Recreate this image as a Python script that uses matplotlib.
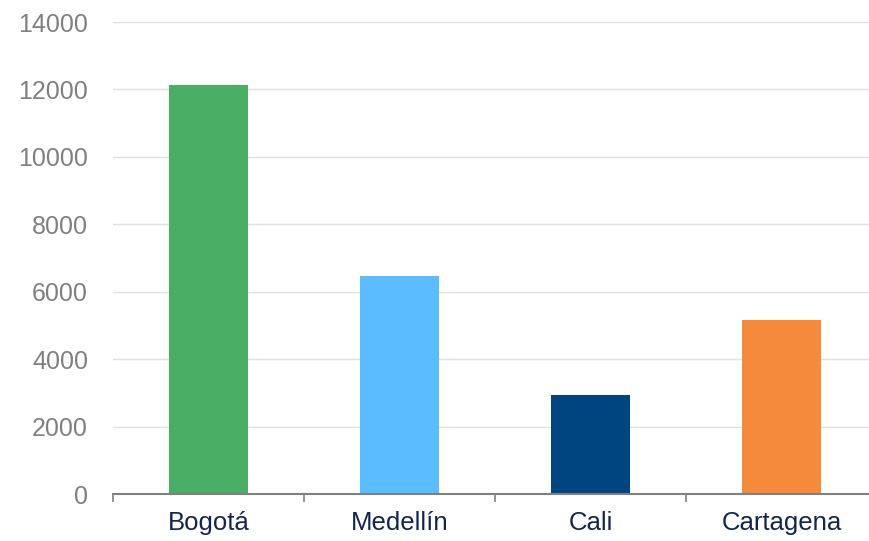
import matplotlib.pyplot as plt
import numpy as np

cities = ["Bogotá", "Medellín", "Cali", "Cartagena"]
values = [12120, 6470, 2940, 5160]
colors = ["#4aae64", "#5bbdff", "#00457f", "#f68a3b"]
y_ticks = [0, 2000, 4000, 6000, 8000, 10000, 12000, 14000]

plt.rcParams["font.family"] = ["Liberation Sans", "DejaVu Sans"]

W, H = 869, 541
fig = plt.figure(figsize=(W / 100, H / 100), dpi=100)
ax = fig.add_axes([113 / W, (H - 494) / H, 764 / W, 472 / H])

x = np.arange(len(cities))
ax.bar(x, values, width=0.41, color=colors, zorder=3)

ax.set_xlim(-0.5, len(cities) - 0.5)
ax.set_ylim(0, 14000)
ax.set_yticks(y_ticks)
ax.set_yticklabels([str(v) for v in y_ticks])
ax.set_xticks(x)
ax.set_xticklabels(cities)
ax.set_xticks(np.arange(len(cities) + 1) - 0.5, minor=True)

ax.grid(axis="y", color="#e0e0e0", linewidth=1, zorder=0)
ax.tick_params(axis="y", length=0, pad=18, labelsize=18, labelcolor="#808080")
ax.tick_params(axis="x", which="major", length=0, pad=12, labelsize=18.5, labelcolor="#13254a")
ax.tick_params(axis="x", which="minor", length=6, width=1.2, color="#808080")

for side in ["left", "right", "top"]:
    ax.spines[side].set_visible(False)
ax.spines["bottom"].set_color("#808080")
ax.spines["bottom"].set_linewidth(1.5)
ax.spines["bottom"].set_zorder(4)

fig.savefig("out.png", dpi=100)
